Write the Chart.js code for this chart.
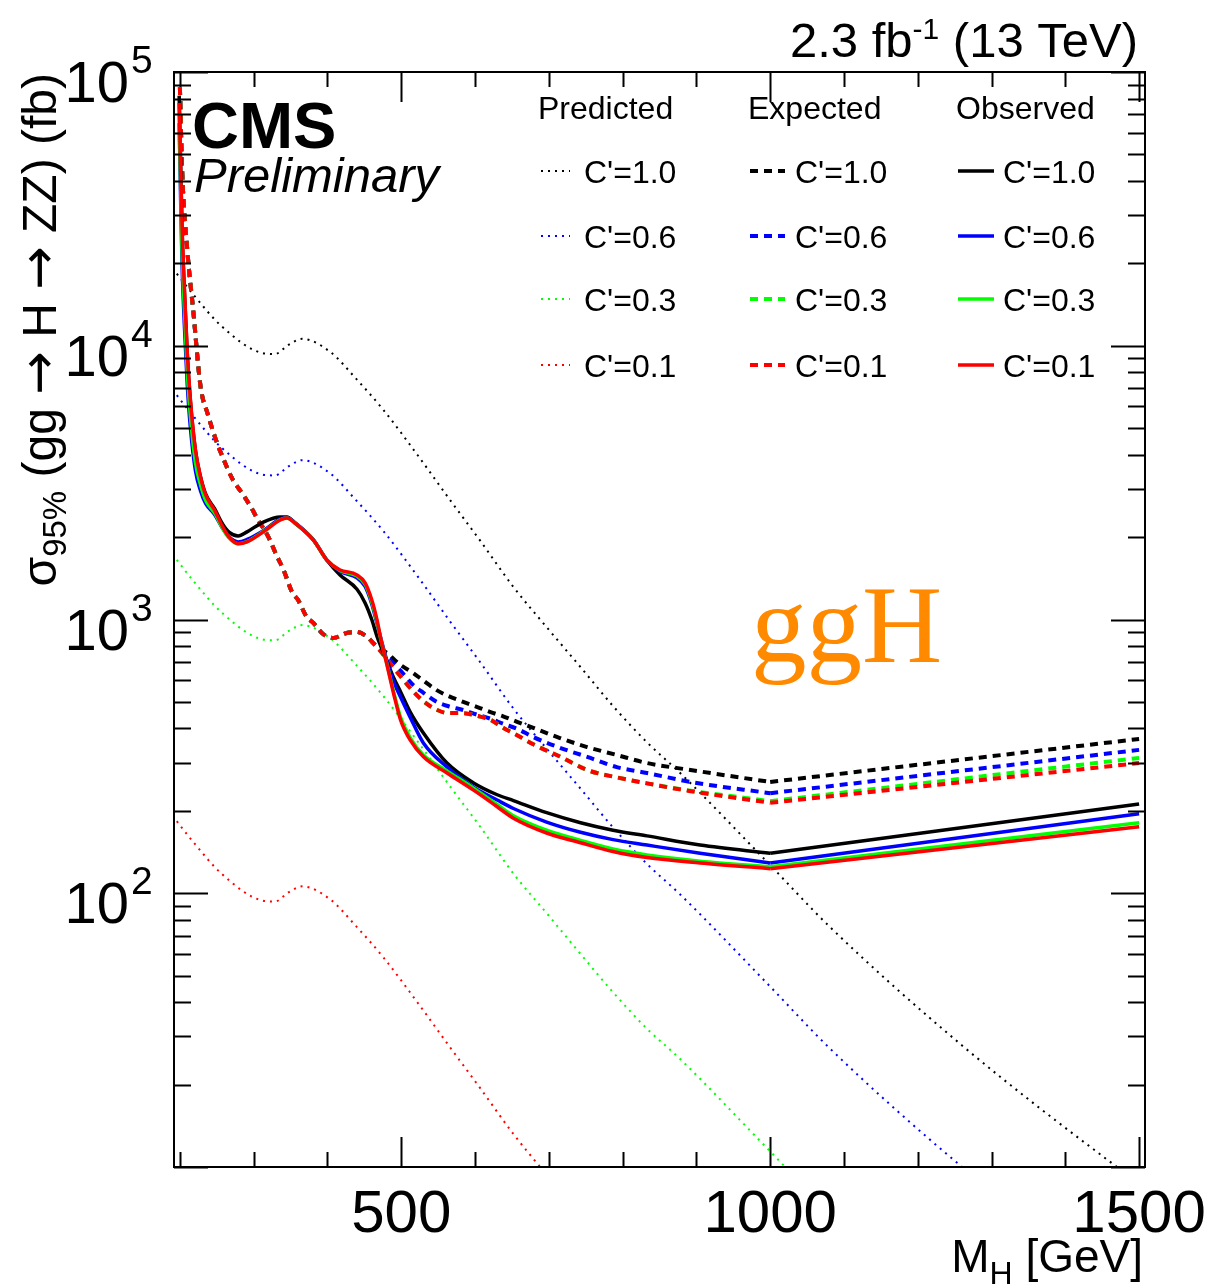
<!DOCTYPE html>
<html>
<head>
<meta charset="utf-8">
<title>ggH limits</title>
<script src="https://cdn.jsdelivr.net/npm/chart.js@4.4.1/dist/chart.umd.min.js"></script>
<style>
  html, body { margin: 0; padding: 0; background: #fff; }
  canvas { display: block; }
</style>
</head>
<body>
<canvas id="limitChart" width="1214" height="1287"></canvas>
<script>
// Predicted cross sections (fb) vs M_H (GeV)
const massPred = [190, 218, 257, 312, 329, 347, 366, 404, 438, 476, 522, 566, 607, 652, 698, 743, 787, 833, 878, 996, 1081, 1260, 1470, 1520];
const predC10 = [19200, 15400, 11750, 9400, 9330, 10070, 10600, 9480, 7620, 5820, 3990, 2735, 1940, 1315, 931, 670, 483, 356, 275, 130, 75.3, 27.8, 10, 8.0];
const predC06 = [6910, 5540, 4230, 3384, 3360, 3625, 3820, 3410, 2740, 2100, 1440, 985, 698, 473, 335, 241, 174, 128, 99, 46.8, 27.1, 10.0, 3.6, 2.9];
const predC03 = [1730, 1386, 1058, 846, 840, 906, 954, 853, 686, 524, 359, 246, 175, 118, 84, 60, 43.5, 32, 24.8, 11.7, 6.8, 2.5, 0.9, 0.72];
const predC01 = [192, 154, 117.5, 94, 93.3, 100.7, 106, 94.8, 76.2, 58.2, 39.9, 27.4, 19.4, 13.2, 9.3, 6.7, 4.8, 3.6, 2.75, 1.3, 0.75, 0.28, 0.1, 0.08];

// Expected 95% CL limits
const massExp = [200, 203, 210, 218, 228, 238, 248, 260, 272, 284, 296, 306, 320, 332, 340, 352, 360, 372, 381, 394, 408, 426, 440, 454, 462, 474, 481, 489, 499, 516, 530, 548, 564, 584, 604, 621, 638, 657, 679, 715, 752, 792, 833, 892, 1000, 1500];
const expC10 = [88000, 44000, 22400, 13500, 7100, 5600, 4600, 3800, 3230, 2900, 2580, 2310, 2000, 1690, 1530, 1260, 1180, 1020, 971, 885, 856, 893, 900, 863, 820, 770, 755, 720, 682, 638, 598, 552, 525, 500, 478, 459, 443, 423, 402, 369, 342, 320, 299, 282, 255, 366];
const expC06 = [88000, 44000, 22400, 13500, 7100, 5600, 4600, 3800, 3230, 2900, 2580, 2310, 2000, 1690, 1530, 1260, 1180, 1020, 971, 885, 856, 893, 900, 863, 820, 757, 725, 694, 650, 577, 540, 500, 482, 467, 448, 434, 416, 399, 372, 340, 315, 289, 275, 255, 232, 334];
const expC03 = [88000, 44000, 22400, 13500, 7100, 5600, 4600, 3800, 3230, 2900, 2580, 2310, 2000, 1690, 1530, 1260, 1180, 1020, 971, 885, 856, 893, 900, 863, 820, 755, 712, 670, 620, 547, 503, 468, 455, 455, 444, 430, 402, 378, 350, 316, 282, 265, 252, 237, 217, 312];
const expC01 = [88000, 44000, 22400, 13500, 7100, 5600, 4600, 3800, 3230, 2900, 2580, 2310, 2000, 1690, 1530, 1260, 1180, 1020, 971, 885, 856, 893, 900, 863, 820, 755, 712, 670, 620, 547, 503, 468, 455, 455, 444, 430, 402, 378, 350, 316, 282, 265, 252, 236, 214, 299];

// Observed 95% CL limits
const massObs = [199, 201, 203, 207, 210, 214, 221, 228, 235, 247, 258, 267, 279, 291, 313, 336, 345, 356, 381, 399, 417, 440, 451, 460, 467, 473, 481, 490, 499, 512, 530, 562, 598, 630, 652, 697, 743, 787, 833, 905, 1000, 1500];
const obsC10 = [82000, 47000, 26000, 14000, 9300, 6400, 4150, 3320, 2870, 2540, 2230, 2080, 2020, 2090, 2270, 2370, 2370, 2250, 1950, 1650, 1455, 1290, 1150, 1000, 870, 790, 700, 610, 545, 460, 385, 299, 253, 229, 218, 197, 181, 170, 162, 150, 140, 212];
const obsC06 = [65000, 34000, 19500, 10500, 7200, 5100, 3500, 2950, 2650, 2420, 2150, 2000, 1920, 1960, 2110, 2330, 2360, 2260, 1955, 1650, 1500, 1420, 1320, 1140, 970, 840, 700, 590, 521, 440, 354, 289, 244, 219, 204, 182, 167, 157, 150, 140, 129, 195];
const obsC03 = [70000, 38000, 22000, 12000, 8000, 5600, 3750, 3100, 2720, 2450, 2150, 1980, 1890, 1925, 2095, 2315, 2350, 2250, 1950, 1650, 1510, 1440, 1345, 1160, 985, 830, 680, 540, 440, 370, 320, 280, 242, 211, 192, 170, 156, 145, 138, 131, 125, 181];
const obsC01 = [77100, 43900, 26900, 14300, 9420, 6460, 4170, 3310, 2850, 2510, 2180, 1995, 1890, 1920, 2090, 2310, 2350, 2250, 1950, 1650, 1517, 1455, 1360, 1180, 1000, 832, 676, 531, 430, 363, 315, 275, 238, 207, 188, 166, 153, 142, 135, 129, 123, 175];

const couplingLabels = ["C'=1.0", "C'=0.6", "C'=0.3", "C'=0.1"];
const couplingColors = ["#000000", "#0000ff", "#00ff00", "#ff0000"];

// the limit curves are straight lines past this mass
const kinkMass = 1000;

// axis ticks
const xMajorTicks = [500, 1000, 1500];
const xTickLabels = ["500", "1000", "1500"];
const xMinorTicks = [200, 300, 400, 600, 700, 800, 900, 1100, 1200, 1300, 1400];
const yDecades = [1, 2, 3, 4, 5];
const yLabelDecades = [2, 3, 4, 5];

const FONT = "'Liberation Sans', Arial, Helvetica, sans-serif";
const ARROW_FONT = "'DejaVu Sans', sans-serif";

const lineStyles = {
    pred: { width: 2, dash: [2, 5] },
    exp: { width: 4, dash: [8, 6] },
    obs: { width: 3.5, dash: [] }
};

function pairs(xs, ys) {
    return xs.map((x, i) => ({ x: x, y: ys[i] }));
}

function lineSet(label, data, color, kind, smooth) {
    const st = lineStyles[kind];
    return {
        label: label,
        data: data,
        borderColor: color,
        backgroundColor: color,
        borderWidth: st.width,
        borderDash: st.dash,
        pointRadius: 0,
        fill: false,
        tension: 0,
        cubicInterpolationMode: smooth ? "monotone" : "default"
    };
}

// smooth part up to the kink, straight tail after it
function series(label, xs, ys, color, kind) {
    const pts = pairs(xs, ys);
    if (kind === "pred") return [lineSet(label, pts, color, kind, true)];
    const k = xs.indexOf(kinkMass);
    return [
        lineSet(label, pts.slice(0, k + 1), color, kind, true),
        lineSet(label + " tail", pts.slice(k), color, kind, false)
    ];
}

// first dataset is drawn on top
const datasets = [].concat(
    series("Observed C'=0.1", massObs, obsC01, couplingColors[3], "obs"),
    series("Observed C'=0.3", massObs, obsC03, couplingColors[2], "obs"),
    series("Observed C'=0.6", massObs, obsC06, couplingColors[1], "obs"),
    series("Observed C'=1.0", massObs, obsC10, couplingColors[0], "obs"),
    series("Expected C'=0.1", massExp, expC01, couplingColors[3], "exp"),
    series("Expected C'=0.3", massExp, expC03, couplingColors[2], "exp"),
    series("Expected C'=0.6", massExp, expC06, couplingColors[1], "exp"),
    series("Expected C'=1.0", massExp, expC10, couplingColors[0], "exp"),
    series("Predicted C'=1.0", massPred, predC10, couplingColors[0], "pred"),
    series("Predicted C'=0.6", massPred, predC06, couplingColors[1], "pred"),
    series("Predicted C'=0.3", massPred, predC03, couplingColors[2], "pred"),
    series("Predicted C'=0.1", massPred, predC01, couplingColors[3], "pred")
);

// draw a run of [text, font, baselineShift] pieces starting at x
function drawRun(ctx, pieces, x, y) {
    pieces.forEach(p => {
        ctx.font = p[1];
        ctx.fillText(p[0], x, y + p[2]);
        x += ctx.measureText(p[0]).width;
    });
}

function runWidth(ctx, pieces) {
    let w = 0;
    pieces.forEach(p => {
        ctx.font = p[1];
        w += ctx.measureText(p[0]).width;
    });
    return w;
}

const legendCols = [
    { title: "Predicted", x: 538, from: 541, to: 570, textX: 584, kind: "pred" },
    { title: "Expected", x: 748, from: 750, to: 785, textX: 795, kind: "exp" },
    { title: "Observed", x: 956, from: 958, to: 994, textX: 1003, kind: "obs" }
];
const legendRowY = [171, 236, 299, 365];

const framePlugin = {
    id: "frame",
    afterDraw(chart) {
        const ctx = chart.ctx;
        const a = chart.chartArea;
        const xs = chart.scales.x;
        const ys = chart.scales.y;
        ctx.save();

        // frame + ticks on all four sides
        ctx.strokeStyle = "#000";
        ctx.lineWidth = 2;
        ctx.setLineDash([]);
        ctx.strokeRect(a.left, a.top, a.right - a.left, a.bottom - a.top);
        ctx.beginPath();
        const xTick = (v, len) => {
            const px = Math.round(xs.getPixelForValue(v)) + 0.5;
            ctx.moveTo(px, a.bottom); ctx.lineTo(px, a.bottom - len);
            ctx.moveTo(px, a.top); ctx.lineTo(px, a.top + len);
        };
        xMajorTicks.forEach(v => xTick(v, 30));
        xMinorTicks.forEach(v => xTick(v, 15));
        const yTick = (v, len) => {
            const py = Math.round(ys.getPixelForValue(v)) + 0.5;
            ctx.moveTo(a.left, py); ctx.lineTo(a.left + len, py);
            ctx.moveTo(a.right, py); ctx.lineTo(a.right - len, py);
        };
        yDecades.forEach(k => {
            yTick(Math.pow(10, k), 34);
            if (k < 5) {
                for (let m = 2; m <= 9; m++) yTick(m * Math.pow(10, k), 17);
            }
        });
        ctx.stroke();

        ctx.fillStyle = "#000";
        ctx.textBaseline = "alphabetic";

        // x tick labels
        ctx.font = "60px " + FONT;
        ctx.textAlign = "center";
        xMajorTicks.forEach((v, i) => {
            ctx.fillText(xTickLabels[i], xs.getPixelForValue(v), 1232);
        });

        // y tick labels 10^k
        yLabelDecades.forEach(k => {
            const py = ys.getPixelForValue(Math.pow(10, k));
            ctx.textAlign = "right";
            ctx.font = "58px " + FONT;
            ctx.fillText("10", 129, py + 30);
            ctx.textAlign = "left";
            ctx.font = "39px " + FONT;
            ctx.fillText(String(k), 131, py + 1);
        });

        // x axis title, right aligned
        ctx.textAlign = "left";
        const xTitle = [["M", "46px " + FONT, 0], ["H", "32px " + FONT, 12], [" [GeV]", "46px " + FONT, 0]];
        drawRun(ctx, xTitle, a.right - 2 - runWidth(ctx, xTitle), 1272);

        // y axis title, rotated, ending near the top
        const big = "48px " + FONT;
        const arrow = "52px " + ARROW_FONT;
        const yTitle = [["σ", big, 0], ["95%", "33px " + FONT, 10], [" (gg ", big, 0],
                        ["→", arrow, 0], [" H ", big, 0], ["→", arrow, 0], [" ZZ) (fb)", big, 0]];
        const yw = runWidth(ctx, yTitle);
        ctx.save();
        ctx.translate(56, 73 + yw);
        ctx.rotate(-Math.PI / 2);
        drawRun(ctx, yTitle, 0, 0);
        ctx.restore();

        // luminosity label
        const lumi = [["2.3 fb", "49px " + FONT, 0], ["-1", "30px " + FONT, -18], [" (13 TeV)", "49px " + FONT, 0]];
        drawRun(ctx, lumi, 1138 - runWidth(ctx, lumi), 57);

        // CMS Preliminary
        ctx.font = "bold 65px " + FONT;
        ctx.fillText("CMS", 192, 148);
        ctx.font = "italic 49px " + FONT;
        ctx.fillText("Preliminary", 194, 192);

        // ggH
        ctx.fillStyle = "#ff8a00";
        ctx.font = "111px 'Liberation Serif', 'Times New Roman', serif";
        ctx.fillText("ggH", 751, 662);

        // legend: three columns
        ctx.fillStyle = "#000";
        legendCols.forEach(col => {
            ctx.font = "32px " + FONT;
            ctx.fillText(col.title, col.x, 119);
            const st = lineStyles[col.kind];
            legendRowY.forEach((y, i) => {
                ctx.strokeStyle = couplingColors[i];
                ctx.lineWidth = st.width;
                ctx.setLineDash(st.dash);
                ctx.beginPath();
                ctx.moveTo(col.from, y);
                ctx.lineTo(col.to, y);
                ctx.stroke();
                ctx.setLineDash([]);
                ctx.fillStyle = "#000";
                ctx.font = "32px " + FONT;
                ctx.fillText(couplingLabels[i], col.textX, y + 12);
            });
        });

        ctx.restore();
    }
};

new Chart(document.getElementById("limitChart").getContext("2d"), {
    type: "line",
    data: { datasets: datasets },
    options: {
        responsive: false,
        animation: false,
        devicePixelRatio: 1,
        layout: { padding: { left: 174, right: 69, top: 72, bottom: 120 } },
        scales: {
            x: { type: "linear", min: 192, max: 1508, display: false },
            y: { type: "logarithmic", min: 10, max: 100000, display: false }
        },
        plugins: {
            legend: { display: false },
            tooltip: { enabled: false }
        }
    },
    plugins: [framePlugin]
});
</script>
</body>
</html>
